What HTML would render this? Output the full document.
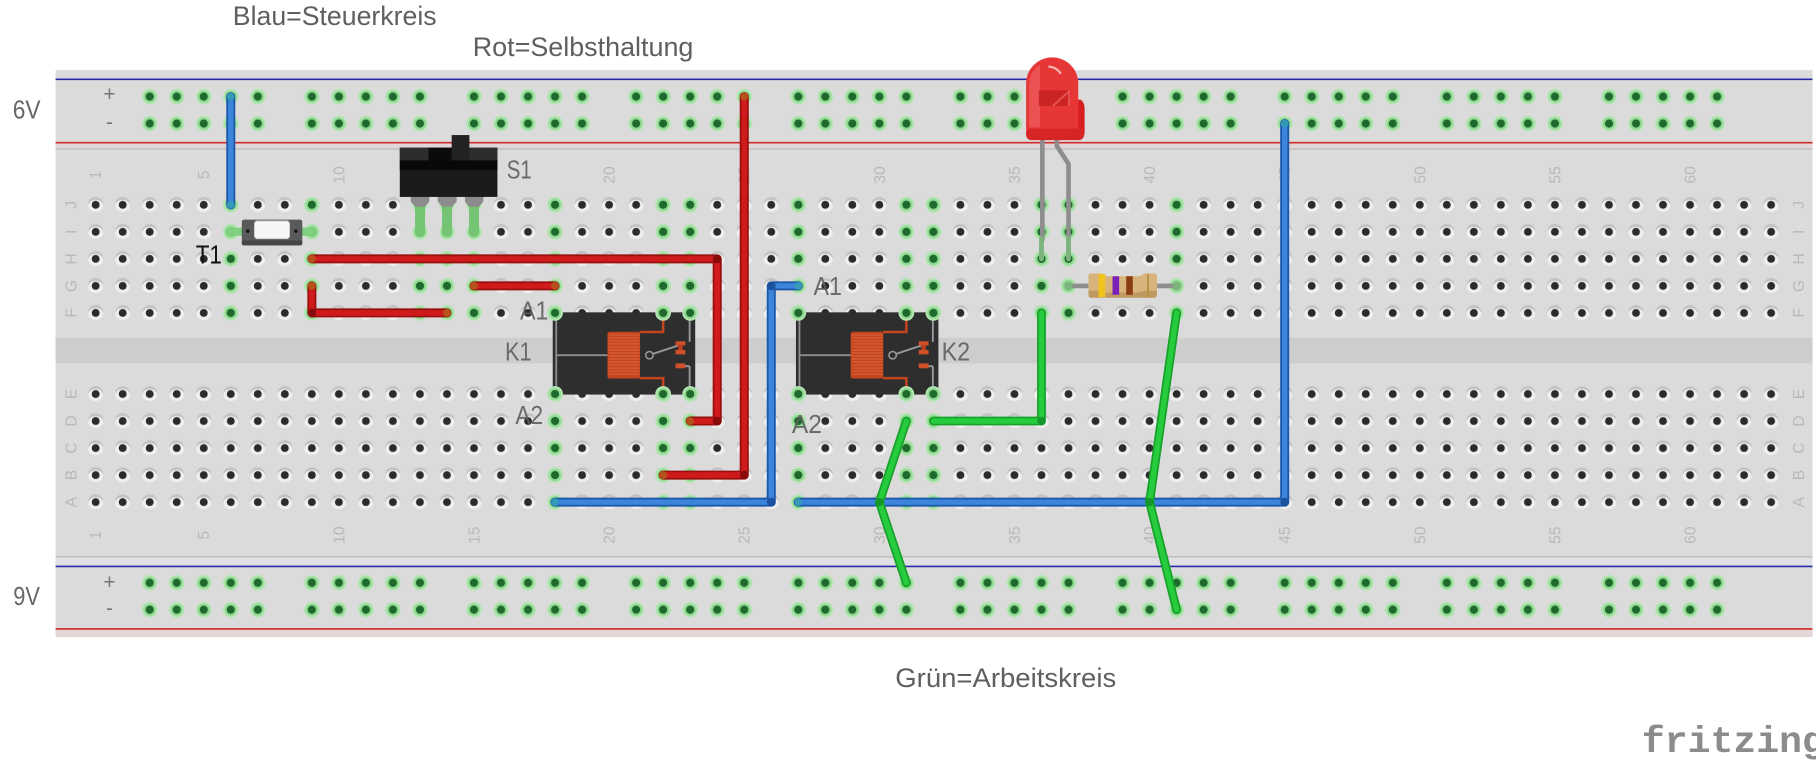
<!DOCTYPE html>
<html><head><meta charset="utf-8"><style>html,body{margin:0;padding:0;background:#fff;overflow:hidden}svg{display:block}</style></head>
<body>
<svg xmlns="http://www.w3.org/2000/svg" xmlns:xlink="http://www.w3.org/1999/xlink" width="1816" height="768" viewBox="0 0 1568 663" preserveAspectRatio="none" font-family="'Liberation Sans', 'DejaVu Sans', sans-serif">
<defs>
<pattern id="pm" patternUnits="userSpaceOnUse" x="70.93" y="165.13" width="23.333" height="23.333">
<ellipse cx="11.667" cy="10.5" rx="6.4" ry="5.6" fill="#c3c3c3"/>
<ellipse cx="11.667" cy="12.6" rx="6.4" ry="5.2" fill="#efefef"/>
<circle cx="11.667" cy="11.667" r="3.4" fill="#2b2b2b"/>
</pattern>
<pattern id="prt" patternUnits="userSpaceOnUse" x="117.6" y="71.78" width="140" height="23.25">
<g fill="#b3e6b3"><circle cx="11.667" cy="11.625" r="6.8"/><circle cx="35" cy="11.625" r="6.8"/><circle cx="58.333" cy="11.625" r="6.8"/><circle cx="81.667" cy="11.625" r="6.8"/><circle cx="105" cy="11.625" r="6.8"/></g>
<g fill="#8fd68f"><circle cx="11.667" cy="11.625" r="5.2"/><circle cx="35" cy="11.625" r="5.2"/><circle cx="58.333" cy="11.625" r="5.2"/><circle cx="81.667" cy="11.625" r="5.2"/><circle cx="105" cy="11.625" r="5.2"/></g>
<g fill="#1e6a2c"><circle cx="11.667" cy="11.625" r="3.5"/><circle cx="35" cy="11.625" r="3.5"/><circle cx="58.333" cy="11.625" r="3.5"/><circle cx="81.667" cy="11.625" r="3.5"/><circle cx="105" cy="11.625" r="3.5"/></g>
</pattern>
<pattern id="prb" patternUnits="userSpaceOnUse" x="117.6" y="491.47" width="140" height="23.25">
<g fill="#b3e6b3"><circle cx="11.667" cy="11.625" r="6.8"/><circle cx="35" cy="11.625" r="6.8"/><circle cx="58.333" cy="11.625" r="6.8"/><circle cx="81.667" cy="11.625" r="6.8"/><circle cx="105" cy="11.625" r="6.8"/></g>
<g fill="#8fd68f"><circle cx="11.667" cy="11.625" r="5.2"/><circle cx="35" cy="11.625" r="5.2"/><circle cx="58.333" cy="11.625" r="5.2"/><circle cx="81.667" cy="11.625" r="5.2"/><circle cx="105" cy="11.625" r="5.2"/></g>
<g fill="#1e6a2c"><circle cx="11.667" cy="11.625" r="3.5"/><circle cx="35" cy="11.625" r="3.5"/><circle cx="58.333" cy="11.625" r="3.5"/><circle cx="81.667" cy="11.625" r="3.5"/><circle cx="105" cy="11.625" r="3.5"/></g>
</pattern>
<g id="gh"><circle r="6.8" fill="#b3e6b3"/><circle r="5.2" fill="#8fd68f"/><circle r="3.5" fill="#1e6a2c"/></g>
<g id="gT"><use xlink:href="#gh" y="176.8"/><use xlink:href="#gh" y="200.13"/><use xlink:href="#gh" y="223.47"/><use xlink:href="#gh" y="246.8"/><use xlink:href="#gh" y="270.13"/></g>
<g id="gB"><use xlink:href="#gh" y="340.13"/><use xlink:href="#gh" y="363.47"/><use xlink:href="#gh" y="386.8"/><use xlink:href="#gh" y="410.13"/><use xlink:href="#gh" y="433.47"/></g>
<g id="relay">
<rect x="-2" y="-0.5" width="123" height="71" fill="#2e2e2e"/>
<path d="M1,0 V70 M1,36.5 H46" stroke="#8d8d8d" stroke-width="1.6" fill="none"/>
<rect x="45.2" y="16.3" width="28.2" height="40.3" rx="2" fill="#c4441f"/>
<path d="M46,19 H73 M46,21.6 H73 M46,24.2 H73 M46,26.8 H73 M46,29.4 H73 M46,32 H73 M46,34.6 H73 M46,37.2 H73 M46,39.8 H73 M46,42.4 H73 M46,45 H73 M46,47.6 H73 M46,50.2 H73 M46,52.8 H73" stroke="#dd6a42" stroke-width="0.8"/>
<path d="M73,16.5 H93.33 V0 M73,56.3 H93.33 V70" stroke="#c4441f" stroke-width="2.2" fill="none"/>
<circle cx="81.5" cy="36.5" r="3.2" fill="none" stroke="#9a9a9a" stroke-width="1.3"/>
<path d="M84.5,35.4 L106,28.2 M116.2,0 V25 M116.2,46 V70 M112,46 H116.2" stroke="#9a9a9a" stroke-width="1.6" fill="none"/>
<rect x="104" y="24.5" width="8.5" height="3.6" fill="#d0502a"/>
<rect x="106.2" y="27.5" width="4" height="5" fill="#b84020"/>
<rect x="104" y="32" width="8.5" height="3.8" fill="#d0502a"/>
<rect x="104" y="43.6" width="8.5" height="4.2" fill="#d0502a"/>
<use xlink:href="#gh" x="0" y="0"/><use xlink:href="#gh" x="93.33" y="0"/><use xlink:href="#gh" x="116.67" y="0"/>
<use xlink:href="#gh" x="0" y="70"/><use xlink:href="#gh" x="93.33" y="70"/><use xlink:href="#gh" x="116.67" y="70"/>
</g>
</defs>

<!-- board -->
<rect x="48" y="60.5" width="1517" height="489.5" fill="#dbdbdb"/>
<rect x="48" y="123.5" width="1517" height="5" fill="#e2d6d6"/>
<rect x="48" y="481.5" width="1517" height="7" fill="#dfdfe6"/>
<rect x="48" y="543.5" width="1517" height="6.3" fill="#e2d6d6"/>
<rect x="48" y="291.7" width="1517" height="22" fill="#cdcdcd"/>
<g stroke-width="1.4">
<line x1="48" y1="68.5" x2="1565" y2="68.5" stroke="#2a2aa8"/>
<line x1="48" y1="123.2" x2="1565" y2="123.2" stroke="#d12a2a"/>
<line x1="48" y1="128.6" x2="1565" y2="128.6" stroke="#c2c2c2"/>
<line x1="48" y1="480.7" x2="1565" y2="480.7" stroke="#c2c2c2"/>
<line x1="48" y1="489" x2="1565" y2="489" stroke="#2a2aa8"/>
<line x1="48" y1="543" x2="1565" y2="543" stroke="#d12a2a"/>
</g>

<!-- holes -->
<rect x="70.93" y="165.13" width="1470" height="116.67" fill="url(#pm)"/>
<rect x="70.93" y="328.46" width="1470" height="116.67" fill="url(#pm)"/>
<rect x="117.6" y="71.78" width="1400" height="46.5" fill="url(#prt)"/>
<rect x="117.6" y="491.47" width="1400" height="46.5" fill="url(#prb)"/>

<!-- green columns -->
<use xlink:href="#gT" x="199.27"/><use xlink:href="#gT" x="269.27"/><use xlink:href="#gT" x="362.6"/><use xlink:href="#gT" x="385.93"/><use xlink:href="#gT" x="409.27"/><use xlink:href="#gT" x="479.26"/><use xlink:href="#gT" x="572.6"/><use xlink:href="#gT" x="595.93"/><use xlink:href="#gT" x="689.26"/><use xlink:href="#gT" x="782.59"/><use xlink:href="#gT" x="805.93"/><use xlink:href="#gT" x="899.26"/><use xlink:href="#gT" x="922.59"/><use xlink:href="#gT" x="1015.92"/>
<use xlink:href="#gB" x="479.26"/><use xlink:href="#gB" x="572.6"/><use xlink:href="#gB" x="595.93"/><use xlink:href="#gB" x="689.26"/><use xlink:href="#gB" x="782.59"/><use xlink:href="#gB" x="805.93"/>

<!-- numbers and letters -->
<g font-size="13.5" fill="#b9b9b9" text-anchor="middle">
<text transform="translate(82.6,151) rotate(-90)" dy="0.35em">1</text>
<text transform="translate(175.93,151) rotate(-90)" dy="0.35em">5</text>
<text transform="translate(292.6,151) rotate(-90)" dy="0.35em">10</text>
<text transform="translate(409.27,151) rotate(-90)" dy="0.35em">15</text>
<text transform="translate(525.93,151) rotate(-90)" dy="0.35em">20</text>
<text transform="translate(642.6,151) rotate(-90)" dy="0.35em">25</text>
<text transform="translate(759.26,151) rotate(-90)" dy="0.35em">30</text>
<text transform="translate(875.93,151) rotate(-90)" dy="0.35em">35</text>
<text transform="translate(992.59,151) rotate(-90)" dy="0.35em">40</text>
<text transform="translate(1109.26,151) rotate(-90)" dy="0.35em">45</text>
<text transform="translate(1225.92,151) rotate(-90)" dy="0.35em">50</text>
<text transform="translate(1342.59,151) rotate(-90)" dy="0.35em">55</text>
<text transform="translate(1459.25,151) rotate(-90)" dy="0.35em">60</text>
<text transform="translate(82.6,462) rotate(-90)" dy="0.35em">1</text>
<text transform="translate(175.93,462) rotate(-90)" dy="0.35em">5</text>
<text transform="translate(292.6,462) rotate(-90)" dy="0.35em">10</text>
<text transform="translate(409.27,462) rotate(-90)" dy="0.35em">15</text>
<text transform="translate(525.93,462) rotate(-90)" dy="0.35em">20</text>
<text transform="translate(642.6,462) rotate(-90)" dy="0.35em">25</text>
<text transform="translate(759.26,462) rotate(-90)" dy="0.35em">30</text>
<text transform="translate(875.93,462) rotate(-90)" dy="0.35em">35</text>
<text transform="translate(992.59,462) rotate(-90)" dy="0.35em">40</text>
<text transform="translate(1109.26,462) rotate(-90)" dy="0.35em">45</text>
<text transform="translate(1225.92,462) rotate(-90)" dy="0.35em">50</text>
<text transform="translate(1342.59,462) rotate(-90)" dy="0.35em">55</text>
<text transform="translate(1459.25,462) rotate(-90)" dy="0.35em">60</text>
<text transform="translate(61.5,176.8) rotate(-90)" dy="0.35em">J</text>
<text transform="translate(61.5,200.13) rotate(-90)" dy="0.35em">I</text>
<text transform="translate(61.5,223.47) rotate(-90)" dy="0.35em">H</text>
<text transform="translate(61.5,246.8) rotate(-90)" dy="0.35em">G</text>
<text transform="translate(61.5,270.13) rotate(-90)" dy="0.35em">F</text>
<text transform="translate(61.5,340.13) rotate(-90)" dy="0.35em">E</text>
<text transform="translate(61.5,363.47) rotate(-90)" dy="0.35em">D</text>
<text transform="translate(61.5,386.8) rotate(-90)" dy="0.35em">C</text>
<text transform="translate(61.5,410.13) rotate(-90)" dy="0.35em">B</text>
<text transform="translate(61.5,433.47) rotate(-90)" dy="0.35em">A</text>
<text transform="translate(1553,176.8) rotate(-90)" dy="0.35em">J</text>
<text transform="translate(1553,200.13) rotate(-90)" dy="0.35em">I</text>
<text transform="translate(1553,223.47) rotate(-90)" dy="0.35em">H</text>
<text transform="translate(1553,246.8) rotate(-90)" dy="0.35em">G</text>
<text transform="translate(1553,270.13) rotate(-90)" dy="0.35em">F</text>
<text transform="translate(1553,340.13) rotate(-90)" dy="0.35em">E</text>
<text transform="translate(1553,363.47) rotate(-90)" dy="0.35em">D</text>
<text transform="translate(1553,386.8) rotate(-90)" dy="0.35em">C</text>
<text transform="translate(1553,410.13) rotate(-90)" dy="0.35em">B</text>
<text transform="translate(1553,433.47) rotate(-90)" dy="0.35em">A</text>
</g>

<!-- rail +/- -->
<g font-size="18" fill="#777" text-anchor="middle">
<text x="94.5" y="87">+</text><text x="94.5" y="111.5">-</text>
<text x="94.5" y="508.5">+</text><text x="94.5" y="531">-</text>
</g>

<!-- relays -->
<use xlink:href="#relay" x="479.26" y="270.13"/>
<use xlink:href="#relay" x="689.26" y="270.13"/>

<!-- push button T1 -->
<line x1="199.27" y1="200.13" x2="210" y2="200.13" stroke="#7fcf7f" stroke-width="7" stroke-linecap="round"/>
<line x1="260" y1="200.13" x2="269.27" y2="200.13" stroke="#7fcf7f" stroke-width="7" stroke-linecap="round"/>
<rect x="208.8" y="189.6" width="52.2" height="22.2" rx="2" fill="#5a5a5a"/>
<rect x="208.8" y="207.5" width="52.2" height="4.3" rx="1.5" fill="#474747"/>
<rect x="219.7" y="190.8" width="30.3" height="15.2" rx="2.5" fill="#f6f6f6" stroke="#cdcdcd" stroke-width="0.8"/>
<circle cx="214" cy="199.5" r="1.5" fill="#111"/><circle cx="255.4" cy="199.5" r="1.5" fill="#111"/>

<!-- slide switch S1 -->
<g>
<path d="M358.4,178 H367 V200.13 A4.3,4.3 0 0 1 358.4,200.13 Z M381.7,178 H390.3 V200.13 A4.3,4.3 0 0 1 381.7,200.13 Z M405,178 H413.6 V200.13 A4.3,4.3 0 0 1 405,200.13 Z" fill="#74c474"/>
<path d="M354.6,166 H370.7 V174 L367,178.5 H358.4 L354.6,174 Z M378,166 H394.3 V174 L390.3,178.5 H381.7 L378,174 Z M401.5,166 H417.4 V174 L413.6,178.5 H405 L401.5,174 Z" fill="#8c8c8c"/>
<rect x="345.2" y="127.5" width="84.3" height="42.5" fill="#1b1b1b"/>
<rect x="345.2" y="127.5" width="84.3" height="11" fill="#2d2d2d"/>
<rect x="370" y="127.5" width="20" height="11" fill="#0b0b0b"/>
<rect x="390" y="116.6" width="15.3" height="22" fill="#222"/>
<rect x="345.2" y="138.5" width="84.3" height="8.5" fill="#080808"/>
</g>

<!-- LED legs -->
<g fill="none" stroke-linecap="round" stroke-linejoin="round">
<path d="M900,118 V207" stroke="#8e8e8e" stroke-width="4"/>
<path d="M912.5,118 V126 L922.6,141.5 V207" stroke="#8e8e8e" stroke-width="4"/>
<path d="M899.26,206 V223.47 M922.59,206 V223.47" stroke="#7db37d" stroke-width="4.2"/>
</g>

<!-- resistor -->
<line x1="922.59" y1="246.8" x2="1015.92" y2="246.8" stroke="#8e8e8e" stroke-width="4" stroke-linecap="round"/>
<circle cx="922.59" cy="246.8" r="3.6" fill="#7db37d"/><circle cx="1015.92" cy="246.8" r="3.6" fill="#7db37d"/>
<path d="M942,236 H950 Q953,238.5 956,238.5 H982 Q985,238.5 988,236 H996.5 Q999,236 999,239 V254 Q999,257 996.5,257 H988 Q985,254.5 982,254.5 H956 Q953,254.5 950,257 H942 Q939.8,257 939.8,254 V239 Q939.8,236 942,236 Z" fill="#d8b47c"/>
<path d="M939.8,251 H950 Q953,252.5 956,252.5 H982 Q985,252.5 988,251 H999 V254 Q999,257 996.5,257 H942 Q939.8,257 939.8,254 Z" fill="#bf9a60"/>
<rect x="948.5" y="236.5" width="5.8" height="20" fill="#f2c31c"/>
<rect x="960.6" y="238.5" width="5.7" height="16" fill="#7a22b8"/>
<rect x="972.4" y="238.5" width="5.7" height="16" fill="#8a3c10"/>
<rect x="990.5" y="236.5" width="1.6" height="20" fill="#b89040"/>

<!-- wires -->
<g fill="none" stroke-linecap="round" stroke-linejoin="round">
<g stroke="#9a0e0e" stroke-width="7.8">
<polyline points="269.27,223.47 619.26,223.47 619.26,363.47 595.93,363.47"/>
<polyline points="269.27,246.8 269.27,270.13 385.93,270.13"/>
<polyline points="409.27,246.8 479.26,246.8"/>
<polyline points="642.6,83.4 642.6,410.13 572.6,410.13"/>
</g>
<g stroke="#cf1b1b" stroke-width="4.8">
<polyline points="269.27,223.47 619.26,223.47 619.26,363.47 595.93,363.47"/>
<polyline points="269.27,246.8 269.27,270.13 385.93,270.13"/>
<polyline points="409.27,246.8 479.26,246.8"/>
<polyline points="642.6,83.4 642.6,410.13 572.6,410.13"/>
</g>
<g stroke="#1c58ab" stroke-width="7.8">
<polyline points="199.27,83.4 199.27,176.8"/>
<polyline points="479.26,433.47 665.93,433.47 665.93,246.8 689.26,246.8"/>
<polyline points="689.26,433.47 1109.26,433.47 1109.26,106.65"/>
</g>
<g stroke="#3c85da" stroke-width="4.6">
<polyline points="199.27,83.4 199.27,176.8"/>
<polyline points="479.26,433.47 665.93,433.47 665.93,246.8 689.26,246.8"/>
<polyline points="689.26,433.47 1109.26,433.47 1109.26,106.65"/>
</g>
</g>
<g>
<g fill="#b5521c"><circle cx="269.27" cy="223.47" r="3.4"/><circle cx="595.93" cy="363.47" r="3.4"/><circle cx="269.27" cy="246.8" r="3.4"/><circle cx="385.93" cy="270.13" r="3.4"/><circle cx="409.27" cy="246.8" r="3.4"/><circle cx="479.26" cy="246.8" r="3.4"/><circle cx="642.6" cy="83.4" r="3.4"/><circle cx="572.6" cy="410.13" r="3.4"/></g>
<g fill="#8a0b0b"><circle cx="619.26" cy="223.47" r="3.8"/><circle cx="619.26" cy="363.47" r="3.8"/><circle cx="269.27" cy="270.13" r="3.8"/><circle cx="642.6" cy="410.13" r="3.8"/></g>
<g fill="#3599b8"><circle cx="199.27" cy="83.4" r="3.3"/><circle cx="199.27" cy="176.8" r="3.3"/><circle cx="479.26" cy="433.47" r="3.3"/><circle cx="689.26" cy="246.8" r="3.3"/><circle cx="689.26" cy="433.47" r="3.3"/><circle cx="1109.26" cy="106.65" r="3.3"/></g>
<g fill="#1a52a0"><circle cx="665.93" cy="433.47" r="3.8"/><circle cx="665.93" cy="246.8" r="3.8"/><circle cx="1109.26" cy="433.47" r="3.8"/></g>
</g>
<g fill="none" stroke-linecap="round" stroke-linejoin="round">
<g stroke="#16a229" stroke-width="7.6">
<polyline points="782.59,363.47 759.26,433.47 782.59,503.1"/>
<polyline points="805.93,363.47 899.26,363.47 899.26,270.13"/>
<polyline points="1015.92,270.13 992.59,433.47 1015.92,526.35"/>
</g>
<g stroke="#27cc3e" stroke-width="4.6">
<polyline points="782.59,363.47 759.26,433.47 782.59,503.1"/>
<polyline points="805.93,363.47 899.26,363.47 899.26,270.13"/>
<polyline points="1015.92,270.13 992.59,433.47 1015.92,526.35"/>
</g>
</g>
<g fill="#14962a"><circle cx="759.26" cy="433.47" r="3.6"/><circle cx="899.26" cy="363.47" r="3.6"/><circle cx="992.59" cy="433.47" r="3.6"/></g>

<!-- LED -->
<g>
<path d="M929,86 H933 Q936.5,88 936.5,94 V114 Q936.5,119.5 932,119.5 H929 Z" fill="#d81f1f"/>
<path d="M886,117 V72 A22.5,22.5 0 0 1 931,72 V117 Z" fill="#e63636"/>
<rect x="886" y="111" width="50" height="10" rx="4.5" fill="#d72525"/>
<path d="M888.5,110 V73 A20,20 0 0 1 898,56 V110 Z" fill="#f06a6a" opacity="0.55"/>
<rect x="897" y="78" width="27" height="13.5" fill="#c42121" opacity="0.85"/>
<path d="M909,91.5 L923,79 V91.5" stroke="#e85555" stroke-width="1.6" fill="none"/>
<path d="M906,57.5 Q912,58 915.5,63" stroke="#f8b0b0" stroke-width="2" fill="none" stroke-linecap="round"/>
</g>

<!-- part labels -->
<text x="169" y="227.5" font-size="22" fill="#111" textLength="22.6" lengthAdjust="spacingAndGlyphs">T1</text>
<text x="437.5" y="154" font-size="22" fill="#6a6a6a" textLength="21.6" lengthAdjust="spacingAndGlyphs">S1</text>
<g font-size="22" fill="#5e5e5e" fill-opacity="0.9">
<text x="449" y="276" textLength="24.5" lengthAdjust="spacingAndGlyphs">A1</text>
<text x="436" y="311" textLength="23" lengthAdjust="spacingAndGlyphs">K1</text>
<text x="445" y="366" textLength="24" lengthAdjust="spacingAndGlyphs">A2</text>
<text x="702.4" y="254.8" textLength="24.5" lengthAdjust="spacingAndGlyphs">A1</text>
<text x="813" y="311" textLength="24.7" lengthAdjust="spacingAndGlyphs">K2</text>
<text x="683.7" y="374" textLength="26" lengthAdjust="spacingAndGlyphs">A2</text>
</g>

<!-- captions -->
<g font-size="23" fill="#5f5f5f">
<text x="201" y="21.5" textLength="176" lengthAdjust="spacingAndGlyphs">Blau=Steuerkreis</text>
<text x="408.2" y="48.4" textLength="190.5" lengthAdjust="spacingAndGlyphs">Rot=Selbsthaltung</text>
<text x="773" y="593" textLength="190.8" lengthAdjust="spacingAndGlyphs">Grün=Arbeitskreis</text>
</g>
<g font-size="22" fill="#666">
<text x="11" y="102.3" textLength="24" lengthAdjust="spacingAndGlyphs">6V</text>
<text x="11.5" y="522.5" textLength="23" lengthAdjust="spacingAndGlyphs">9V</text>
</g>

<!-- fritzing logo -->
<text x="1417.7" y="649" font-family="'Liberation Mono', 'DejaVu Sans Mono', monospace" font-size="32" font-weight="bold" fill="#8c8c8c" textLength="158" lengthAdjust="spacingAndGlyphs">fritzing</text>
</svg>
</body></html>
